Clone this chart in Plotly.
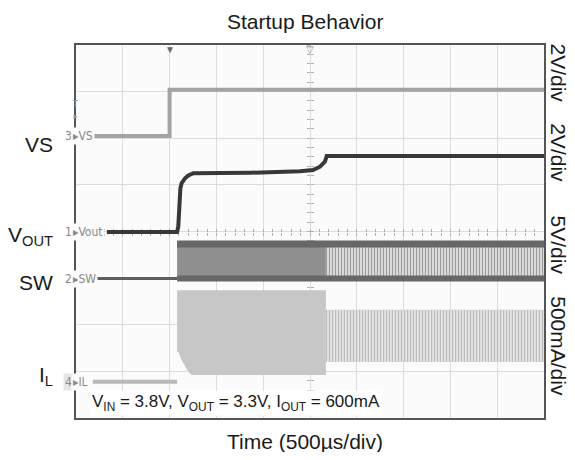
import plotly.graph_objects as go

# scope capture: time in us (500 us/div, 10 div), amplitude in divisions (8 div)
T_START = 1080   # converter starts switching
T_STEP = 2670    # end of soft start

vs_t = [180, 1000, 1000, 5000]
vs_v = [6.05, 6.05, 7.04, 7.04]

vout_t = [330, 1080, 1093, 1105, 1115, 1129, 1165, 1200, 1253, 1860, 2393, 2532, 2607, 2660, 2679, 5000]
vout_v = [3.99, 3.99, 4.11, 4.60, 4.92, 5.04, 5.14, 5.20, 5.25, 5.26, 5.29, 5.32, 5.39, 5.50, 5.62, 5.62]

sw_idle_t = [180, T_START]
sw_idle_v = [2.99, 2.99]
sw_soft_t = [T_START, T_STEP]
sw_run_t = [T_STEP, 5000]
sw_hi = [3.73, 3.73]
sw_lo = [2.99, 2.99]

il_idle_t = [180, T_START]
il_idle_v = [0.78, 0.78]
il_soft_t = [1080, 1093, 1129, 1165, 1200, 1236, 2670]
il_soft_lo = [1.42, 1.42, 1.24, 1.10, 0.99, 0.92, 0.92]
il_soft_hi = [2.74, 2.74, 2.74, 2.74, 2.74, 2.74, 2.74]
il_run_t = [T_STEP, 5000]
il_run_lo = [1.20, 1.20]
il_run_hi = [2.32, 2.32]

FONT = "Liberation Sans, Arial, sans-serif"
SCOPE_FONT = "DejaVu Sans Condensed, DejaVu Sans, sans-serif"

fig = go.Figure()


def band(t, lo, hi, fillcolor=None, pattern=None):
    fig.add_scatter(x=t, y=lo, mode='lines', line=dict(width=0),
                    showlegend=False, hoverinfo='skip')
    kw = dict(fill='tonexty', mode='lines', line=dict(width=0),
              showlegend=False, hoverinfo='skip')
    if pattern:
        kw['fillpattern'] = pattern
    else:
        kw['fillcolor'] = fillcolor
    fig.add_scatter(x=t, y=hi, **kw)


def trace(t, v, color, width):
    fig.add_scatter(x=t, y=v, mode='lines', line=dict(color=color, width=width),
                    showlegend=False, hoverinfo='skip')


# IL
trace(il_idle_t, il_idle_v, '#b9b9b9', 4)
band(il_soft_t, il_soft_lo, il_soft_hi, fillcolor='#c7c7c7')
band(il_run_t, il_run_lo, il_run_hi,
     pattern=dict(shape='|', size=3, solidity=0.5, fgcolor='#bdbdbd',
                  bgcolor='#ececec', fillmode='replace'))

# SW
trace(sw_idle_t, sw_idle_v, '#5e5e5e', 3)
band(sw_soft_t, sw_lo, sw_hi, fillcolor='#8f8f8f')
band(sw_run_t, sw_lo, sw_hi,
     pattern=dict(shape='|', size=3, solidity=0.45, fgcolor='#9c9c9c',
                  bgcolor='#e6e6e6', fillmode='replace'))
trace(sw_soft_t + sw_run_t[1:], sw_hi + sw_hi[1:], '#676767', 7)
trace(sw_soft_t + sw_run_t[1:], sw_lo + sw_lo[1:], '#676767', 6)

# VS and VOUT
trace(vs_t, vs_v, '#a3a3a3', 4)
trace(vout_t, vout_v, '#383838', 4)

# center graticule ticks
for xa, ya in [('x2', 'y2'), ('x3', 'y3')]:
    fig.add_scatter(x=[None], y=[None], xaxis=xa, yaxis=ya, showlegend=False,
                    hoverinfo='skip')

grid = dict(showgrid=True, gridcolor='#dcdcdc', gridwidth=1, zeroline=False,
            showticklabels=False, ticks='', showline=True, linecolor='#555555',
            linewidth=1.5, mirror=True, fixedrange=True)
tick_ax = dict(anchor='free', position=0.5, showgrid=False, zeroline=False,
               showline=False, showticklabels=False, ticklen=3,
               tickcolor='#b0b0b0', tickwidth=1, layer='below traces')

# the page body adds an 8px margin all round; keep the page free of scrollbars
fig.update_layout(
    width=559, height=444,
    margin=dict(l=68, r=23, t=37, b=34),
    paper_bgcolor='white', plot_bgcolor='#fbfbfb',
    font=dict(family=FONT, color='#1a1a1a'),
    xaxis=dict(range=[0, 5000], dtick=500, tick0=0, **grid),
    yaxis=dict(range=[0, 8], dtick=1, tick0=0, **grid),
    xaxis2=dict(overlaying='x', range=[0, 5000], dtick=100, tick0=0,
                ticks='outside', **tick_ax),
    xaxis3=dict(overlaying='x', range=[0, 5000], dtick=100, tick0=0,
                ticks='inside', **tick_ax),
    yaxis2=dict(overlaying='y', range=[0, 8], dtick=0.2, tick0=0,
                ticks='outside', **tick_ax),
    yaxis3=dict(overlaying='y', range=[0, 8], dtick=0.2, tick0=0,
                ticks='inside', **tick_ax),
)

# titles
fig.add_annotation(text='Startup Behavior', xref='paper', yref='paper',
                   x=0.489, y=1.062, xanchor='center', yanchor='middle',
                   showarrow=False, font=dict(size=21))
fig.add_annotation(text='Time (500µs/div)', xref='paper', yref='paper',
                   x=0.489, y=-0.064, xanchor='center', yanchor='middle',
                   showarrow=False, font=dict(size=21))

# channel names on the left
for txt, yv in [('VS', 5.86), ('V<sub>OUT</sub>', 3.90), ('SW', 2.91),
                ('I<sub>L</sub>', 0.90)]:
    fig.add_annotation(text=txt, xref='paper', yref='y', x=-0.045, y=yv,
                       xanchor='right', yanchor='middle', showarrow=False,
                       font=dict(size=21))

# scales on the right
for txt, yv in [('2V/div', 7.40), ('2V/div', 5.69), ('5V/div', 3.71),
                ('500mA/div', 1.55)]:
    fig.add_annotation(text=txt, xref='paper', yref='y', x=1.031, y=yv,
                       xanchor='center', yanchor='middle', textangle=90,
                       showarrow=False, font=dict(size=21))

# scope channel markers
for num, name, yv in [('3', 'VS', 6.05), ('1', 'Vout', 3.99), ('2', 'SW', 2.99),
                      ('4', 'IL', 0.78)]:
    fig.add_annotation(text=num, xref='paper', yref='y', x=-0.027, y=yv,
                       xanchor='left', yanchor='middle', showarrow=False,
                       font=dict(size=12, color='#8a8a8a', family=SCOPE_FONT),
                       bgcolor='#e6e6e6' if num == '4' else None)
    fig.add_annotation(text='▸' + name, xref='paper', yref='y', x=-0.010, y=yv,
                       xanchor='left', yanchor='middle', showarrow=False,
                       bgcolor='#fbfbfb',
                       font=dict(size=12, color='#8a8a8a', family=SCOPE_FONT))
fig.add_annotation(text='T<br>▸', xref='paper', yref='y', x=-0.012, y=6.6,
                   xanchor='left', yanchor='middle', showarrow=False,
                   font=dict(size=9, color='#999999', family=SCOPE_FONT))

# trigger / cursor markers at the top edge
fig.add_annotation(text='▼', x=1000, xref='x', yref='paper', y=1.0,
                   yanchor='top', showarrow=False, yshift=3,
                   font=dict(size=10, color='#666666'))
fig.add_annotation(text='▽', x=2500, xref='x', yref='paper', y=1.0,
                   yanchor='top', showarrow=False, yshift=3,
                   font=dict(size=10, color='#888888'))

# test conditions
fig.add_annotation(text='V<sub>IN</sub> = 3.8V, V<sub>OUT</sub> = 3.3V, I<sub>OUT</sub> = 600mA',
                   xref='paper', yref='y', x=0.03, y=0.32, xanchor='left',
                   yanchor='middle', showarrow=False, bgcolor='white',
                   font=dict(size=17))

fig.write_html("out.html")
